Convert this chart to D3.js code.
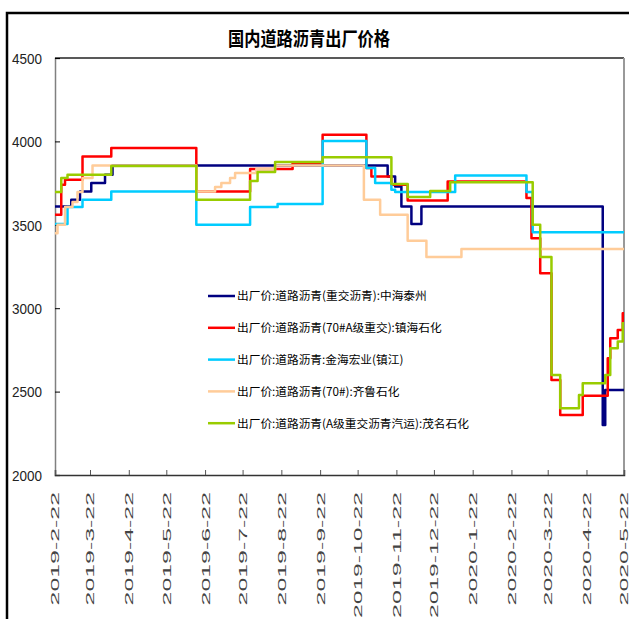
<!DOCTYPE html>
<html><head><meta charset="utf-8">
<script src="https://cdn.jsdelivr.net/npm/d3@7"></script>
<style>body{margin:0;background:#fff}svg{display:block}</style>
</head><body>
<svg id="chart" width="629" height="619"></svg>
<script>
const chartTitle = "国内道路沥青出厂价格";
const yTicks = [2000, 2500, 3000, 3500, 4000, 4500];
const xTickLabels = ["2019-2-22","2019-3-22","2019-4-22","2019-5-22","2019-6-22","2019-7-22","2019-8-22","2019-9-22","2019-10-22","2019-11-22","2019-12-22","2020-1-22","2020-2-22","2020-3-22","2020-4-22","2020-5-22"];
const seriesNames = [
  "出厂价:道路沥青(重交沥青):中海泰州",
  "出厂价:道路沥青(70#A级重交):镇海石化",
  "出厂价:道路沥青:金海宏业(镇江)",
  "出厂价:道路沥青(70#):齐鲁石化",
  "出厂价:道路沥青(A级重交沥青汽运):茂名石化"
];
const seriesColors = ["#000080", "#FF0000", "#00CCFF", "#FFCC99", "#99CC00"];

const zhonghaiTaizhou = [["2019-02-22",3610],["2019-03-07",3650],["2019-03-14",3700],["2019-03-23",3750],["2019-04-03",3800],["2019-04-09",3855],["2019-11-15",3790],["2019-11-21",3730],["2019-11-26",3610],["2019-12-04",3505],["2019-12-12",3610],["2020-05-05",2300],["2020-05-07",2510],["2020-05-22",2510]];
const zhenhai = [["2019-02-22",3560],["2019-02-27",3740],["2019-03-02",3770],["2019-03-16",3910],["2019-04-08",3960],["2019-06-15",3700],["2019-07-28",3835],["2019-08-31",3870],["2019-09-24",4040],["2019-10-29",3840],["2019-11-02",3790],["2019-11-18",3740],["2019-12-01",3645],["2020-01-02",3760],["2020-03-05",3660],["2020-03-09",3420],["2020-03-16",3210],["2020-03-25",2570],["2020-04-01",2360],["2020-04-19",2475],["2020-05-09",2700],["2020-05-11",2820],["2020-05-17",2870],["2020-05-21",2970],["2020-05-22",2970]];
const jinhaiZhenjiang = [["2019-02-22",3505],["2019-03-04",3607],["2019-03-16",3650],["2019-04-08",3700],["2019-06-15",3500],["2019-07-28",3607],["2019-08-19",3625],["2019-09-24",4002],["2019-10-29",3840],["2019-11-05",3750],["2019-11-18",3710],["2019-11-21",3697],["2020-01-08",3795],["2020-03-05",3697],["2020-03-10",3455],["2020-05-22",3455]];
const qilu = [["2019-02-22",3450],["2019-02-24",3500],["2019-03-02",3607],["2019-03-08",3637],["2019-03-12",3697],["2019-03-16",3780],["2019-03-24",3855],["2019-06-15",3700],["2019-06-30",3727],["2019-07-05",3750],["2019-07-12",3780],["2019-07-16",3810],["2019-08-02",3835],["2019-08-17",3855],["2019-10-27",3650],["2019-11-09",3560],["2019-12-01",3405],["2019-12-16",3307],["2020-01-13",3355],["2020-05-22",3355]];
const maoming = [["2019-02-22",3697],["2019-02-27",3780],["2019-03-04",3800],["2019-04-08",3852],["2019-06-15",3650],["2019-07-28",3763],["2019-08-03",3817],["2019-08-17",3876],["2019-09-24",3905],["2019-11-18",3745],["2019-12-01",3667],["2019-12-19",3703],["2020-01-04",3755],["2020-03-10",3500],["2020-03-16",3307],["2020-03-25",2600],["2020-04-01",2400],["2020-04-16",2480],["2020-04-19",2550],["2020-05-07",2600],["2020-05-11",2760],["2020-05-17",2800],["2020-05-21",2910],["2020-05-22",2910]];
const allSeries = [zhonghaiTaizhou, zhenhai, jinhaiZhenjiang, qilu, maoming];

const parseISO = d3.timeParse("%Y-%m-%d");
const svg = d3.select("#chart");
const L = 55, R = 624, T = 58, B = 475;

const x = d3.scaleTime().domain([parseISO("2019-02-22"), parseISO("2020-05-22")]).range([L, R]);
const y = d3.scaleLinear().domain([2000, 4500]).range([B, T]);

// outer frame
svg.append("rect").attr("x", 7).attr("y", 13).attr("width", 700).attr("height", 700)
  .attr("fill", "none").attr("stroke", "#000").attr("stroke-width", 2.5);

// title
svg.append("text").attr("x", 309).attr("y", 46).attr("text-anchor", "middle")
  .attr("font-family", "Noto Sans CJK SC").attr("font-weight", "bold").attr("font-size", 19)
  .attr("textLength", 162).attr("lengthAdjust", "spacingAndGlyphs")
  .attr("fill", "#000").text(chartTitle);

// plot frame
svg.append("line").attr("x1", L).attr("x2", R).attr("y1", T).attr("y2", T).attr("stroke", "#222").attr("stroke-width", 1.5);
svg.append("line").attr("x1", R).attr("x2", R).attr("y1", T).attr("y2", B).attr("stroke", "#999").attr("stroke-width", 2);

// y axis
const yAxis = d3.axisLeft(y).tickValues(yTicks).tickSize(-5).tickFormat(d3.format("d"));
const gy = svg.append("g").attr("transform", `translate(${L},0)`).call(yAxis);
gy.select(".domain").attr("stroke", "#808080").attr("stroke-width", 1.5);
gy.selectAll(".tick line").attr("stroke", "#000");
gy.selectAll(".tick text").attr("x", -13).attr("dy", "0.35em")
  .attr("font-family", "Liberation Sans").attr("font-size", 15).attr("fill", "#222")
  .attr("textLength", 30).attr("lengthAdjust", "spacingAndGlyphs");

// x axis
const xTickDates = xTickLabels.map(s => parseISO(s));
const xAxis = d3.axisBottom(x).tickValues(xTickDates).tickSize(-5).tickFormat((d, i) => xTickLabels[i]);
const gx = svg.append("g").attr("transform", `translate(0,${B})`).call(xAxis);
gx.select(".domain").attr("stroke", "#333").attr("stroke-width", 1.5);
gx.selectAll(".tick line").attr("stroke", "#555");
gx.selectAll(".tick text")
  .attr("transform", "rotate(-90)")
  .attr("x", -17).attr("y", 0).attr("dy", "0.36em")
  .attr("text-anchor", "end")
  .attr("font-family", "Liberation Sans").attr("font-size", 11).attr("fill", "#444")
  .attr("textLength", (d, i) => xTickLabels[i].length * 12.6)
  .attr("lengthAdjust", "spacingAndGlyphs");

// lines
const line = d3.line().x(d => x(parseISO(d[0]))).y(d => y(d[1])).curve(d3.curveStepAfter);
allSeries.forEach((s, i) => {
  svg.append("path").datum(s).attr("d", line).attr("fill", "none")
    .attr("stroke", seriesColors[i]).attr("stroke-width", 2.5).attr("stroke-linejoin", "round");
});

// legend
const legend = svg.append("g");
seriesNames.forEach((name, i) => {
  const ly = 296 + i * 31.8;
  legend.append("line").attr("x1", 208).attr("x2", 235).attr("y1", ly).attr("y2", ly)
    .attr("stroke", seriesColors[i]).attr("stroke-width", 2.5);
  legend.append("text").attr("x", 237).attr("y", ly).attr("dy", "0.38em")
    .attr("font-family", "Noto Sans CJK SC").attr("font-size", 11.7).attr("fill", "#000").text(name);
});
</script>
</body></html>
